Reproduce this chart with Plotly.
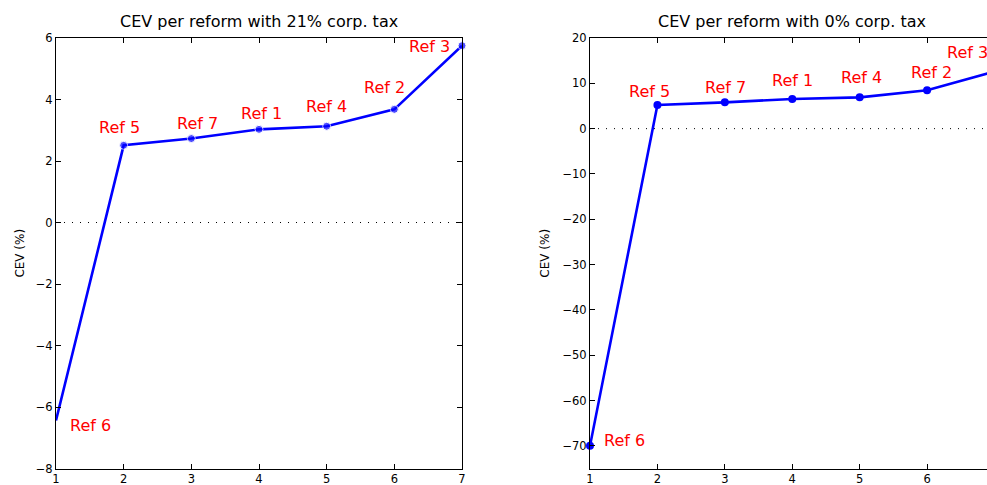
import plotly.graph_objects as go

# ---- data ----
reforms = [1, 2, 3, 4, 5, 6, 7]
ref_labels = ["Ref 6", "Ref 5", "Ref 7", "Ref 1", "Ref 4", "Ref 2", "Ref 3"]
cev_21 = [-6.44, 2.51, 2.73, 3.03, 3.13, 3.68, 5.75]
cev_0 = [-70.0, 5.2, 5.8, 6.55, 6.9, 8.45, 12.6]
titles = ["CEV per reform with 21% corp. tax", "CEV per reform with 0% corp. tax"]
x_ticks = [1, 2, 3, 4, 5, 6, 7]
y_ticks_21 = [-8, -6, -4, -2, 0, 2, 4, 6]
y_ticks_0 = [-70, -60, -50, -40, -30, -20, -10, 0, 10, 20]

# ---- style ----
W, H = 1000, 485
FONT = "DejaVu Sans, Liberation Sans, Arial, sans-serif"
BLUE = "#0000ff"
RED = "#ff0000"
shift_21 = [(34, -5), (-4, 18), (6, 15), (2, 16), (0, 20), (-10, 22), (-33, -1)]
shift_0 = [(34, 5), (-8, 14), (1, 15), (0, 18), (2, 20), (4, 18), (-27, 19)]
msize_21 = [0, 8, 8, 8, 8, 8, 8]

fig = go.Figure()
fig.add_trace(go.Scatter(x=reforms, y=cev_21, mode="lines+markers",
                         line=dict(color=BLUE, width=2.6),
                         marker=dict(color=BLUE, size=msize_21),
                         xaxis="x", yaxis="y", showlegend=False, cliponaxis=False))
fig.add_trace(go.Scatter(x=reforms, y=cev_0, mode="lines+markers",
                         line=dict(color=BLUE, width=2.6),
                         marker=dict(color=BLUE, size=8),
                         xaxis="x2", yaxis="y2", showlegend=False, cliponaxis=False))

ydom = [(H - 468.5) / H, (H - 38) / H]
axis_common = dict(showline=True, linecolor="black", linewidth=1, ticks="inside",
                   ticklen=5, tickcolor="black", showgrid=False, zeroline=False,
                   automargin=False,
                   tickfont=dict(family=FONT, size=11.5, color="black"))
ytitle_font = dict(family=FONT, size=12, color="black")

fig.update_layout(
    width=W, height=H, autosize=False,
    margin=dict(l=0, r=0, t=0, b=0, pad=0, autoexpand=False),
    paper_bgcolor="white", plot_bgcolor="white",
    font=dict(family=FONT, color="black"),
    xaxis=dict(domain=[56 / W, 462 / W], range=[1, 7], tickvals=x_ticks,
               mirror="ticks", anchor="y", **axis_common),
    yaxis=dict(domain=ydom, range=[-8, 6], tickvals=y_ticks_21, mirror="ticks",
               anchor="x", title=dict(text="CEV (%)", font=ytitle_font, standoff=8),
               **axis_common),
    xaxis2=dict(domain=[590 / W, 994.5 / W], range=[1, 7], tickvals=x_ticks,
                mirror="ticks", anchor="y2", **axis_common),
    yaxis2=dict(domain=ydom, range=[-75, 20], tickvals=y_ticks_0, mirror="ticks",
                anchor="x2", title=dict(text="CEV (%)", font=ytitle_font, standoff=10),
                **axis_common),
)

# zero reference lines
for xr, yr in (("x", "y"), ("x2", "y2")):
    fig.add_shape(type="line", xref=f"{xr} domain", yref=yr, x0=0, x1=1, y0=0, y1=0,
                  line=dict(color="black", width=1, dash="1px,7px"), layer="below")

# titles
for i, xr in enumerate(("x", "x2")):
    fig.add_annotation(text=titles[i], xref=f"{xr} domain", yref="paper",
                       x=0.5, y=ydom[1], yshift=5, xanchor="center", yanchor="bottom",
                       showarrow=False, font=dict(family=FONT, size=16, color="black"))

# point labels
for xr, yr, vals, shifts in (("x", "y", cev_21, shift_21), ("x2", "y2", cev_0, shift_0)):
    for xv, yv, lab, (dx, dy) in zip(reforms, vals, ref_labels, shifts):
        fig.add_annotation(x=xv, y=yv, xref=xr, yref=yr, text=lab, showarrow=False,
                           xshift=dx, yshift=dy, xanchor="center", yanchor="middle",
                           font=dict(family=FONT, size=16, color=RED))

fig.write_html("out.html",
               post_script="document.body.style.overflow='hidden';"
                           "document.documentElement.style.overflow='hidden';")
